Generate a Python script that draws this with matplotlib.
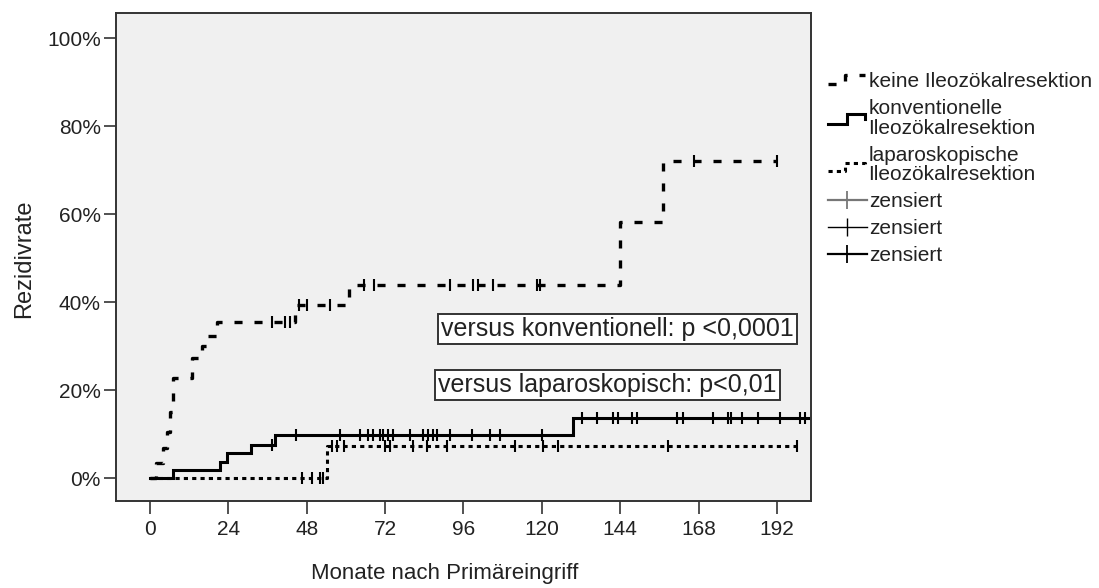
import numpy as np
import matplotlib
matplotlib.use("Agg")
import matplotlib.pyplot as plt
from matplotlib.lines import Line2D
from matplotlib.legend_handler import HandlerBase

plt.rcParams['font.family'] = ['Liberation Sans', 'DejaVu Sans']
plt.rcParams['lines.scale_dashes'] = False

# --- Kaplan-Meier step data (months, cumulative recurrence in %) ---
keine_t = [0, 2, 4, 5.1, 6.1, 7.0, 13, 16, 17.5, 20.5, 44.5, 61, 144, 157]
keine_y = [0, 3.5, 6.8, 10.5, 15.0, 22.7, 27.3, 30.0, 32.3, 35.5, 39.4, 44.0, 58.2, 72.1]
keine_end = 192
keine_cens = [37.5, 41.3, 42.8, 45.5, 48, 55, 65.5, 68.5, 92, 99, 100.5, 105,
              118.5, 119.5, 166.5, 192]

konv_t = [0, 7, 21.5, 23.5, 31, 38.3, 129.6]
konv_y = [0, 1.8, 3.6, 5.6, 7.5, 9.8, 13.6]
konv_end = 201.5
konv_cens = [37.5, 44.6, 58.2, 64.3, 66.8, 68.3, 70.4, 71.5, 72.9, 74.4, 79.6,
             83.6, 85.0, 86.6, 87.9, 91.9, 98.6, 104.1, 107.2, 119.9, 132.2,
             136.8, 141.8, 143.3, 147.5, 149.0, 161.3, 163.2, 172.4, 177.0,
             178.0, 181.2, 186.2, 192.9, 199.0, 200.6]

lap_t = [0, 54.3]
lap_y = [0, 7.3]
lap_end = 198
lap_cens = [46.4, 49.5, 52, 53, 55.6, 57.2, 59.5, 72, 73.5, 80.6, 84.8, 90.9,
            111.8, 120.3, 124.9, 158.6, 198]

x_ticks = [0, 24, 48, 72, 96, 120, 144, 168, 192]
y_ticks = [0, 20, 40, 60, 80, 100]

labels = ["keine Ileozökalresektion",
          "konventionelle\nIleozökalresektion",
          "laparoskopische\nIleozökalresektion",
          "zensiert", "zensiert", "zensiert"]

notes = ["versus konventionell: p <0,0001", "versus laparoskopisch: p<0,01"]

DASH = (0, (5.8, 8.6))
DOT = (0, (3.0, 3.0))

fig = plt.figure(figsize=(10.99, 5.88), dpi=100)
ax = fig.add_axes([116 / 1099, 87 / 588, 695 / 1099, 488 / 588])
ax.set_facecolor('#f0f0f0')


def value_at(ts, ys, t):
    i = np.searchsorted(ts, t, side='right') - 1
    return ys[i]


def draw_curve(ts, ys, end, cens, ls, lw):
    t = np.array(ts + [end], dtype=float)
    y = np.array(ys + [ys[-1]], dtype=float)
    ax.step(t, y, where='post', color='black', lw=lw, linestyle=ls,
            solid_joinstyle='miter', zorder=3)
    cy = [value_at(np.array(ts), np.array(ys), c) for c in cens]
    ax.plot(cens, cy, linestyle='none', marker='|', markersize=9,
            markeredgewidth=1.5, color='black', zorder=4)


draw_curve(keine_t, keine_y, keine_end, keine_cens, DASH, 2.4)
draw_curve(konv_t, konv_y, konv_end, konv_cens, '-', 2.2)
draw_curve(lap_t, lap_y, lap_end, lap_cens, DOT, 2.2)

ax.set_xlim(-10.4, 202.4)
ax.set_ylim(-5.2, 105.7)
ax.set_xticks(x_ticks)
ax.set_yticks(y_ticks)
ax.set_yticklabels([f"{v}%" for v in y_ticks])
ax.tick_params(axis='both', direction='out', length=9, width=1.2,
               colors='#333333', labelsize=15, labelcolor='#222222')
ax.tick_params(axis='x', pad=5)
ax.tick_params(axis='y', pad=2)
for s in ax.spines.values():
    s.set_color('#333333')
    s.set_linewidth(1.4)

ax.set_xlabel("Monate nach Primäreingriff", fontsize=16, color='#222222')
ax.xaxis.set_label_coords(0.473, -0.127)
ax.set_ylabel("Rezidivrate", fontsize=17, color='#222222')
ax.yaxis.set_label_coords(-0.116, 0.496)

box = dict(boxstyle='square,pad=0.12', fc='white', ec='#333333', lw=1.4)
ax.text(0.468, 0.352, notes[0], transform=ax.transAxes, fontsize=18,
        va='center', ha='left', color='#222222', bbox=box, zorder=5)
ax.text(0.464, 0.238, notes[1], transform=ax.transAxes, fontsize=18,
        va='center', ha='left', color='#222222', bbox=box, zorder=5)


class StepHandler(HandlerBase):
    def __init__(self, xs, ys):
        super().__init__()
        self.xs = np.array(xs)
        self.ys = np.array(ys)

    def create_artists(self, legend, orig_handle, xdescent, ydescent,
                       width, height, fontsize, trans):
        x = -xdescent + self.xs * width
        y = -ydescent + self.ys * height
        ln = Line2D(x, y)
        self.update_prop(ln, orig_handle, legend)
        ln.set_transform(trans)
        return [ln]


h_keine = Line2D([], [], color='black', lw=2.4, linestyle=DASH)
h_konv = Line2D([], [], color='black', lw=2.2, linestyle='-',
                solid_joinstyle='miter')
h_lap = Line2D([], [], color='black', lw=2.2, linestyle=DOT)
h_c1 = Line2D([], [], color='#777777', lw=1.6, marker='|', markersize=13,
              markeredgewidth=1.3)
h_c2 = Line2D([], [], color='black', lw=1.0, marker='|', markersize=13,
              markeredgewidth=1.0)
h_c3 = Line2D([], [], color='black', lw=1.6, marker='|', markersize=13,
              markeredgewidth=1.3)

fig.legend([h_keine, h_konv, h_lap, h_c1, h_c2, h_c3], labels,
           loc='upper left', bbox_to_anchor=(828 / 1099, 1 - 72 / 588),
           frameon=False, fontsize=15, handlelength=1.85, handletextpad=0.1,
           labelspacing=0.38, borderpad=0, borderaxespad=0, numpoints=1,
           handler_map={
               h_keine: StepHandler([0, 0.45, 0.45, 0.95], [0.2, 0.2, 0.85, 0.85]),
               h_konv: StepHandler([0, 0.5, 0.5, 0.95, 0.95], [0.15, 0.15, 0.8, 0.8, 0.5]),
               h_lap: StepHandler([0, 0.45, 0.45, 0.95, 0.95], [0.1, 0.1, 0.65, 0.65, 0.35]),
           })
for t in fig.legends[0].get_texts():
    t.set_color('#222222')
    t.set_linespacing(1.05)

fig.savefig("out.png", dpi=100, facecolor='white')
